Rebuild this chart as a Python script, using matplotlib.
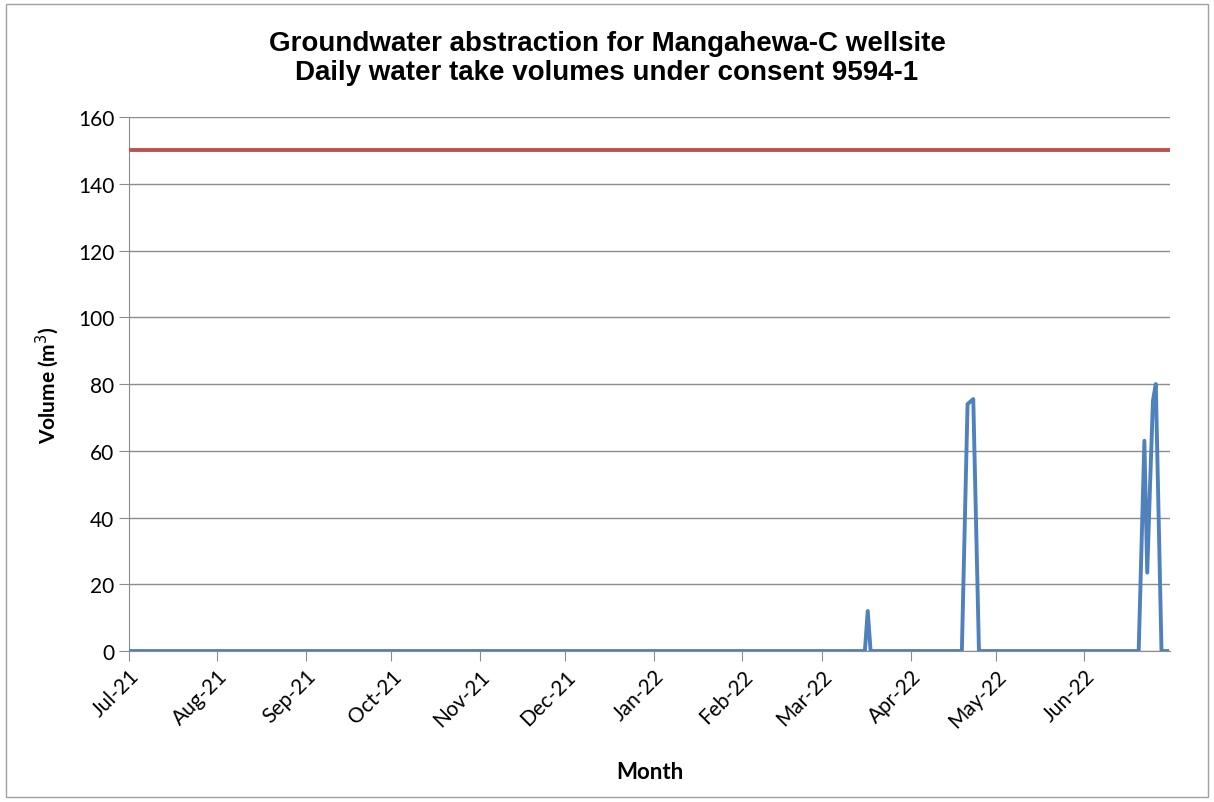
import matplotlib.pyplot as plt
import matplotlib.dates as mdates
import numpy as np
from datetime import date
from matplotlib.patches import Rectangle

# Données (m3 par jour)
dates = [date(2021, 7, 1), date(2022, 3, 16), date(2022, 3, 17), date(2022, 3, 18),
         date(2022, 4, 19), date(2022, 4, 21), date(2022, 4, 23), date(2022, 4, 25),
         date(2022, 6, 20), date(2022, 6, 22), date(2022, 6, 23), date(2022, 6, 24),
         date(2022, 6, 25), date(2022, 6, 26), date(2022, 6, 28), date(2022, 6, 30)]
volumes = [0, 0, 12, 0,
           0, 74, 75.5, 0,
           0, 63, 23.5, 50,
           75, 80, 0, 0]

consent_limit = 150
limit_dates = [date(2021, 7, 1), date(2022, 7, 1)]

month_ticks = [date(2021, m, 1) for m in range(7, 13)] + [date(2022, m, 1) for m in range(1, 7)]

fig = plt.figure(figsize=(12.14, 8.03), dpi=100)
ax = fig.add_axes([0.1063, 0.188, 0.8575, 0.665])

# Limite du consentement
ax.plot(limit_dates, [consent_limit] * 2, color='#C0504D', linewidth=2.8, zorder=3)
# Volumes journaliers
ax.plot(dates, volumes, color='#4F81BD', linewidth=2.8, zorder=4)

ax.set_xlim(date(2021, 7, 1), date(2022, 7, 1))
ax.set_ylim(0, 160)
ax.set_yticks(np.arange(0, 161, 20))
ax.set_xticks(month_ticks)
ax.xaxis.set_major_formatter(mdates.DateFormatter('%b-%y'))

ax.grid(axis='y', color='#8C8C8C', linewidth=1)
ax.set_axisbelow(True)
for side in ['top', 'right']:
    ax.spines[side].set_visible(False)
for side in ['left', 'bottom']:
    ax.spines[side].set_color('#8C8C8C')
ax.tick_params(axis='both', direction='out', length=7, color='#8C8C8C', labelsize=15)
plt.setp(ax.get_xticklabels(), rotation=45, ha='right', rotation_mode='anchor', family='Lato')
plt.setp(ax.get_yticklabels(), family='Lato')

ax.set_xlabel('Month', fontsize=16, fontweight='bold', family='Lato', labelpad=22)
ax.set_ylabel('Volume (m$^3$)', fontsize=15, fontweight='bold', family='Lato', labelpad=12)

fig.text(0.5, 0.927, 'Groundwater abstraction for Mangahewa-C wellsite\nDaily water take volumes under consent 9594-1',
         ha='center', va='center', fontsize=20, fontweight='bold', family='Liberation Sans', linespacing=1.15)

# Cadre extérieur
fig.patches.append(Rectangle((0.005, 0.006), 0.99, 0.988, transform=fig.transFigure,
                             fill=False, edgecolor='#A0A0A0', linewidth=1))

fig.savefig('out.png', dpi=100)
